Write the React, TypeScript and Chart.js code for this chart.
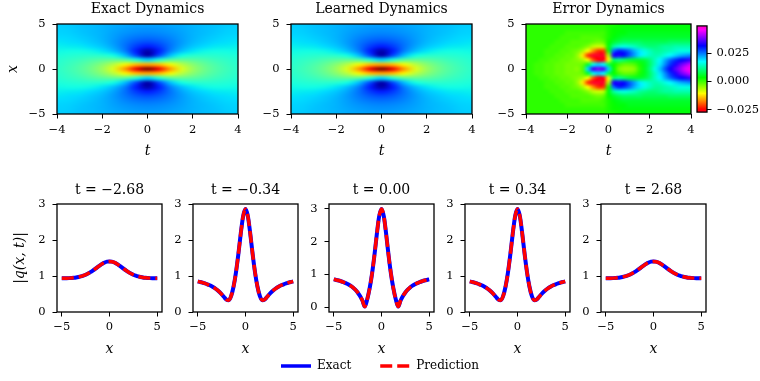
import React, { useEffect, useRef } from 'react';
import { Chart, registerables } from 'chart.js';

Chart.register(...registerables);

const SERIF = "'DejaVu Serif', 'Liberation Serif', serif";
Chart.defaults.font.family = SERIF;
Chart.defaults.color = '#000';

// ---------------- data ----------------
// heat-map grid: columns are t, rows are x (top row x = 5)
const heatTs = [-4, -3.5, -3, -2.5, -2, -1.5, -1, -0.5, 0, 0.5, 1, 1.5, 2, 2.5, 3, 3.5, 4];
const heatXs = [5, 4.5, 4, 3.5, 3, 2.5, 2, 1.5, 1, 0.5, 0, -0.5, -1, -1.5, -2, -2.5, -3, -3.5, -4, -4.5, -5];

const exactGrid = [
  [0.98, 0.97, 0.95, 0.93, 0.91, 0.88, 0.87, 0.85, 0.85, 0.85, 0.87, 0.88, 0.91, 0.93, 0.95, 0.97, 0.98],
  [0.99, 0.98, 0.95, 0.93, 0.90, 0.87, 0.84, 0.82, 0.81, 0.82, 0.84, 0.87, 0.90, 0.93, 0.95, 0.98, 0.99],
  [1.00, 0.99, 0.96, 0.93, 0.90, 0.85, 0.81, 0.78, 0.77, 0.78, 0.81, 0.85, 0.90, 0.93, 0.96, 0.99, 1.00],
  [1.02, 1.01, 0.98, 0.95, 0.90, 0.84, 0.77, 0.72, 0.70, 0.72, 0.77, 0.84, 0.90, 0.95, 0.98, 1.01, 1.02],
  [1.05, 1.03, 1.01, 0.97, 0.92, 0.83, 0.73, 0.64, 0.60, 0.64, 0.73, 0.83, 0.92, 0.97, 1.01, 1.03, 1.05],
  [1.08, 1.07, 1.06, 1.02, 0.96, 0.86, 0.71, 0.54, 0.45, 0.54, 0.71, 0.86, 0.96, 1.02, 1.06, 1.07, 1.08],
  [1.11, 1.12, 1.12, 1.10, 1.05, 0.94, 0.75, 0.45, 0.10, 0.45, 0.75, 0.94, 1.05, 1.10, 1.12, 1.12, 1.11],
  [1.15, 1.17, 1.19, 1.20, 1.19, 1.12, 0.94, 0.59, 0.10, 0.59, 0.94, 1.12, 1.19, 1.20, 1.19, 1.17, 1.15],
  [1.18, 1.22, 1.26, 1.32, 1.37, 1.41, 1.37, 1.18, 1.00, 1.18, 1.37, 1.41, 1.37, 1.32, 1.26, 1.22, 1.18],
  [1.20, 1.25, 1.32, 1.41, 1.54, 1.72, 1.94, 2.13, 2.20, 2.13, 1.94, 1.72, 1.54, 1.41, 1.32, 1.25, 1.20],
  [1.21, 1.27, 1.34, 1.45, 1.61, 1.86, 2.24, 2.72, 3.00, 2.72, 2.24, 1.86, 1.61, 1.45, 1.34, 1.27, 1.21],
  [1.20, 1.25, 1.32, 1.41, 1.54, 1.72, 1.94, 2.13, 2.20, 2.13, 1.94, 1.72, 1.54, 1.41, 1.32, 1.25, 1.20],
  [1.18, 1.22, 1.26, 1.32, 1.37, 1.41, 1.37, 1.18, 1.00, 1.18, 1.37, 1.41, 1.37, 1.32, 1.26, 1.22, 1.18],
  [1.15, 1.17, 1.19, 1.20, 1.19, 1.12, 0.94, 0.59, 0.10, 0.59, 0.94, 1.12, 1.19, 1.20, 1.19, 1.17, 1.15],
  [1.11, 1.12, 1.12, 1.10, 1.05, 0.94, 0.75, 0.45, 0.10, 0.45, 0.75, 0.94, 1.05, 1.10, 1.12, 1.12, 1.11],
  [1.08, 1.07, 1.06, 1.02, 0.96, 0.86, 0.71, 0.54, 0.45, 0.54, 0.71, 0.86, 0.96, 1.02, 1.06, 1.07, 1.08],
  [1.05, 1.03, 1.01, 0.97, 0.92, 0.83, 0.73, 0.64, 0.60, 0.64, 0.73, 0.83, 0.92, 0.97, 1.01, 1.03, 1.05],
  [1.02, 1.01, 0.98, 0.95, 0.90, 0.84, 0.77, 0.72, 0.70, 0.72, 0.77, 0.84, 0.90, 0.95, 0.98, 1.01, 1.02],
  [1.00, 0.99, 0.96, 0.93, 0.90, 0.85, 0.81, 0.78, 0.77, 0.78, 0.81, 0.85, 0.90, 0.93, 0.96, 0.99, 1.00],
  [0.99, 0.98, 0.95, 0.93, 0.90, 0.87, 0.84, 0.82, 0.81, 0.82, 0.84, 0.87, 0.90, 0.93, 0.95, 0.98, 0.99],
  [0.98, 0.97, 0.95, 0.93, 0.91, 0.88, 0.87, 0.85, 0.85, 0.85, 0.87, 0.88, 0.91, 0.93, 0.95, 0.97, 0.98],
];
// the learned field is visually identical to the exact one
const learnedGrid = exactGrid;
const heatRange = [0, 3.0];

// error field, in units of 1e-3 (columns t step 0.25, rows x step 0.5)
const errTs = [-4, -3.75, -3.5, -3.25, -3, -2.75, -2.5, -2.25, -2, -1.75, -1.5, -1.25, -1, -0.75, -0.5, -0.25, 0,
  0.25, 0.5, 0.75, 1, 1.25, 1.5, 1.75, 2, 2.25, 2.5, 2.75, 3, 3.25, 3.5, 3.75, 4];
const errXs = heatXs;
const errorGridMilli = [
  [1, 1, 1, 1, 1, 1, 1, 1, 1, 1, 1, 1, 1, 1, 1, 1, 2, 2, 3, 3, 3, 4, 4, 4, 4, 4, 4, 4, 4, 4, 4, 4, 4],
  [1, 1, 1, 1, 1, 1, 1, 1, 1, 1, 1, 1, 1, 1, 1, 1, 2, 3, 3, 4, 4, 4, 4, 4, 4, 4, 4, 4, 4, 4, 4, 4, 4],
  [1, 1, 1, 1, 1, 1, 1, 1, 0, 0, 0, 0, 0, 0, 0, 0, 2, 3, 4, 4, 5, 5, 5, 5, 5, 5, 5, 5, 5, 5, 5, 5, 5],
  [1, 1, 1, 1, 1, 1, 1, 0, 0, 0, 0, -1, -1, -1, -1, 0, 2, 4, 5, 6, 6, 6, 6, 6, 6, 6, 6, 6, 6, 6, 6, 6, 6],
  [1, 1, 1, 1, 1, 1, 0, 0, 0, -1, -1, -1, -1, -2, -3, -2, 3, 6, 8, 9, 9, 9, 9, 8, 8, 8, 8, 8, 9, 9, 9, 9, 9],
  [1, 1, 1, 1, 1, 0, 0, 0, -1, -1, -1, -2, -4, -7, -8, -7, 4, 12, 15, 16, 15, 14, 12, 11, 10, 10, 11, 12, 12, 13, 13, 13, 13],
  [1, 1, 1, 1, 0, 0, 0, -1, -1, -2, -3, -6, -11, -17, -22, -22, 2, 26, 30, 29, 26, 22, 19, 16, 14, 12, 12, 13, 14, 15, 16, 16, 16],
  [1, 1, 1, 1, 0, 0, -1, -1, -2, -2, -5, -12, -22, -27, -29, -29, -6, 33, 33, 31, 27, 23, 19, 16, 14, 13, 14, 16, 18, 20, 22, 23, 24],
  [1, 1, 1, 0, 0, -1, -1, -2, -2, -3, -4, -6, -10, -20, -25, -26, -10, 9, 11, 9, 7, 6, 6, 7, 10, 14, 18, 22, 26, 29, 31, 33, 35],
  [1, 1, 0, 0, -1, -1, -2, -2, -3, -3, -3, -2, 6, 16, 20, 18, 8, 3, 0, -2, -2, -1, 2, 5, 9, 14, 19, 24, 29, 33, 37, 40, 43],
  [1, 1, 0, 0, -1, -1, -2, -2, -3, -3, -4, -1, 20, 35, 38, 36, 20, 4, -3, -5, -5, -4, 1, 5, 10, 16, 21, 27, 32, 36, 40, 44, 47],
  [1, 1, 0, 0, -1, -1, -2, -2, -3, -3, -3, -2, 6, 16, 20, 18, 8, 3, 0, -2, -2, -1, 2, 5, 9, 14, 19, 24, 29, 33, 37, 40, 43],
  [1, 1, 1, 0, 0, -1, -1, -2, -2, -3, -4, -6, -10, -20, -25, -26, -10, 9, 11, 9, 7, 6, 6, 7, 10, 14, 18, 22, 26, 29, 31, 33, 35],
  [1, 1, 1, 1, 0, 0, -1, -1, -2, -2, -5, -12, -22, -27, -29, -29, -6, 33, 33, 31, 27, 23, 19, 16, 14, 13, 14, 16, 18, 20, 22, 23, 24],
  [1, 1, 1, 1, 0, 0, 0, -1, -1, -2, -3, -6, -11, -17, -22, -22, 2, 26, 30, 29, 26, 22, 19, 16, 14, 12, 12, 13, 14, 15, 16, 16, 16],
  [1, 1, 1, 1, 1, 0, 0, 0, -1, -1, -1, -2, -4, -7, -8, -7, 4, 12, 15, 16, 15, 14, 12, 11, 10, 10, 11, 12, 12, 13, 13, 13, 13],
  [1, 1, 1, 1, 1, 1, 0, 0, 0, -1, -1, -1, -1, -2, -3, -2, 3, 6, 8, 9, 9, 9, 9, 8, 8, 8, 8, 8, 9, 9, 9, 9, 9],
  [1, 1, 1, 1, 1, 1, 1, 0, 0, 0, 0, -1, -1, -1, -1, 0, 2, 4, 5, 6, 6, 6, 6, 6, 6, 6, 6, 6, 6, 6, 6, 6, 6],
  [1, 1, 1, 1, 1, 1, 1, 1, 0, 0, 0, 0, 0, 0, 0, 0, 2, 3, 4, 4, 5, 5, 5, 5, 5, 5, 5, 5, 5, 5, 5, 5, 5],
  [1, 1, 1, 1, 1, 1, 1, 1, 1, 1, 1, 1, 1, 1, 1, 1, 2, 3, 3, 4, 4, 4, 4, 4, 4, 4, 4, 4, 4, 4, 4, 4, 4],
  [1, 1, 1, 1, 1, 1, 1, 1, 1, 1, 1, 1, 1, 1, 1, 1, 2, 2, 3, 3, 3, 4, 4, 4, 4, 4, 4, 4, 4, 4, 4, 4, 4],
];
const errRange = [-0.027, 0.049];

// slices |q(x,t)|
const lineXs = [-5, -4.75, -4.5, -4.25, -4, -3.75, -3.5, -3.25, -3, -2.75, -2.5, -2.25, -2, -1.75, -1.5, -1.25, -1,
  -0.75, -0.5, -0.25, 0, 0.25, 0.5, 0.75, 1, 1.25, 1.5, 1.75, 2, 2.25, 2.5, 2.75, 3, 3.25, 3.5, 3.75, 4, 4.25, 4.5, 4.75, 5];
const exactTm268 = [0.937, 0.937, 0.938, 0.941, 0.945, 0.951, 0.960, 0.973, 0.989, 1.010, 1.036, 1.069, 1.107, 1.151,
  1.198, 1.248, 1.297, 1.341, 1.376, 1.398, 1.406, 1.398, 1.376, 1.341, 1.297, 1.248, 1.198, 1.151, 1.107, 1.069, 1.036,
  1.010, 0.989, 0.973, 0.960, 0.951, 0.945, 0.941, 0.938, 0.937, 0.937];
const exactTm034 = [0.848, 0.833, 0.815, 0.795, 0.770, 0.742, 0.708, 0.668, 0.619, 0.561, 0.493, 0.416, 0.344, 0.328,
  0.446, 0.708, 1.098, 1.603, 2.171, 2.659, 2.858, 2.659, 2.171, 1.603, 1.098, 0.708, 0.446, 0.328, 0.344, 0.416, 0.493,
  0.561, 0.619, 0.668, 0.708, 0.742, 0.770, 0.795, 0.815, 0.833, 0.848];
const exactT000 = [0.846, 0.830, 0.812, 0.790, 0.765, 0.734, 0.698, 0.654, 0.600, 0.533, 0.448, 0.340, 0.200, 0.015,
  0.231, 0.561, 1.000, 1.560, 2.200, 2.765, 3.000, 2.765, 2.200, 1.560, 1.000, 0.561, 0.231, 0.015, 0.200, 0.340, 0.448,
  0.533, 0.600, 0.654, 0.698, 0.734, 0.765, 0.790, 0.812, 0.830, 0.846];
const exactT034 = exactTm034;
const exactT268 = exactTm268;
// predictions coincide with the exact curves at plot resolution
const predTm268 = exactTm268;
const predTm034 = exactTm034;
const predT000 = exactT000;
const predT034 = exactT034;
const predT268 = exactT268;

const panelTitles = ['t = \u22122.68', 't = \u22120.34', 't = 0.00', 't = 0.34', 't = 2.68'];
const panelExact = [exactTm268, exactTm034, exactT000, exactT034, exactT268];
const panelPred = [predTm268, predTm034, predT000, predT034, predT268];
const panelYRange = [[0, 3], [0, 3], [-0.15, 3.15], [0, 3], [0, 3]];

const heatTTicks = [-4, -2, 0, 2, 4];
const heatXTicks = [-5, 0, 5];
const lineXTicks = [-5, 0, 5];
const lineYTicks = [0, 1, 2, 3];
const cbarTicks = [-0.025, 0, 0.025];

// ---------------- colormaps ----------------
type Pts = number[][];
const JET_R: Pts = [[0, 0], [0.35, 0], [0.66, 1], [0.89, 1], [1, 0.5]];
const JET_G: Pts = [[0, 0], [0.125, 0], [0.375, 1], [0.64, 1], [0.91, 0], [1, 0]];
const JET_B: Pts = [[0, 0.5], [0.11, 1], [0.34, 1], [0.65, 0], [1, 0]];
function seg(p: Pts, n: number) {
  if (n <= p[0][0]) return p[0][1];
  for (let i = 1; i < p.length; i++) {
    if (n <= p[i][0]) {
      const [x0, y0] = p[i - 1];
      const [x1, y1] = p[i];
      return y0 + ((y1 - y0) * (n - x0)) / (x1 - x0);
    }
  }
  return p[p.length - 1][1];
}
const jet = (n: number) => [seg(JET_R, n), seg(JET_G, n), seg(JET_B, n)];
const GIST: Pts = [[0, 1, 0, 0.16], [0.03, 1, 0, 0], [0.215, 1, 1, 0], [0.4, 0, 1, 0], [0.586, 0, 1, 1], [0.77, 0, 0, 1], [0.954, 1, 0, 1], [1, 1, 0, 0.75]];
const gist = (n: number) => [1, 2, 3].map((c) => seg(GIST.map((r) => [r[0], r[c]]), n));
const clamp01 = (v: number) => Math.max(0, Math.min(1, v));

const fmt = (v: number, d = 0) => (v < 0 ? '\u2212' : '') + Math.abs(v).toFixed(d);

// ---------------- plugins ----------------
const framePlugin = {
  id: 'frame',
  afterDraw(chart: any) {
    const { ctx, chartArea: a } = chart;
    ctx.save();
    ctx.strokeStyle = '#000';
    ctx.lineWidth = 1.3;
    ctx.strokeRect(a.left, a.top, a.right - a.left, a.bottom - a.top);
    ctx.restore();
  },
};

function gridImagePlugin(grid: number[][], ts: number[], xs: number[], toRGB: (v: number) => number[]) {
  let img: HTMLCanvasElement | null = null;
  return {
    id: 'gridImage',
    beforeDatasetsDraw(chart: any) {
      if (!img) {
        const rows = grid.length;
        const cols = grid[0].length;
        img = document.createElement('canvas');
        img.width = cols;
        img.height = rows;
        const c = img.getContext('2d')!;
        const d = c.createImageData(cols, rows);
        for (let r = 0; r < rows; r++) {
          for (let k = 0; k < cols; k++) {
            const rgb = toRGB(grid[r][k]);
            const i = (r * cols + k) * 4;
            d.data[i] = Math.round(rgb[0] * 255);
            d.data[i + 1] = Math.round(rgb[1] * 255);
            d.data[i + 2] = Math.round(rgb[2] * 255);
            d.data[i + 3] = 255;
          }
        }
        c.putImageData(d, 0, 0);
      }
      const { ctx, chartArea: a, scales } = chart;
      const dt = (ts[1] - ts[0]) / 2;
      const dx = Math.abs(xs[0] - xs[1]) / 2;
      const px0 = scales.x.getPixelForValue(ts[0] - dt);
      const px1 = scales.x.getPixelForValue(ts[ts.length - 1] + dt);
      const py0 = scales.y.getPixelForValue(xs[0] + dx);
      const py1 = scales.y.getPixelForValue(xs[xs.length - 1] - dx);
      ctx.save();
      ctx.beginPath();
      ctx.rect(a.left, a.top, a.right - a.left, a.bottom - a.top);
      ctx.clip();
      ctx.imageSmoothingEnabled = true;
      ctx.imageSmoothingQuality = 'high';
      ctx.drawImage(img, px0, py0, px1 - px0, py1 - py0);
      ctx.restore();
    },
  };
}

function colorbarPlugin(range: number[], cmap: (n: number) => number[]) {
  let img: HTMLCanvasElement | null = null;
  return {
    id: 'colorbar',
    beforeDatasetsDraw(chart: any) {
      const N = 256;
      if (!img) {
        img = document.createElement('canvas');
        img.width = 1;
        img.height = N;
        const c = img.getContext('2d')!;
        const d = c.createImageData(1, N);
        for (let r = 0; r < N; r++) {
          const rgb = cmap(1 - r / (N - 1));
          d.data[r * 4] = Math.round(rgb[0] * 255);
          d.data[r * 4 + 1] = Math.round(rgb[1] * 255);
          d.data[r * 4 + 2] = Math.round(rgb[2] * 255);
          d.data[r * 4 + 3] = 255;
        }
        c.putImageData(d, 0, 0);
      }
      const { ctx, chartArea: a, scales } = chart;
      const top = scales.y.getPixelForValue(range[1]);
      const bottom = scales.y.getPixelForValue(range[0]);
      ctx.save();
      ctx.imageSmoothingEnabled = true;
      ctx.drawImage(img, a.left, top, a.right - a.left, bottom - top);
      ctx.restore();
    },
  };
}

// ---------------- axis helpers ----------------
function axis(o: {
  min: number; max: number; ticks: number[]; digits?: number; horizontal: boolean; size: number;
  tickPad: number; title?: string; titlePad?: number; position?: string; display?: boolean; labels?: (v: number) => string;
}) {
  const label = o.labels || ((v: number) => fmt(v, o.digits || 0));
  return {
    type: 'linear',
    display: o.display === undefined ? true : o.display,
    position: o.position || (o.horizontal ? 'bottom' : 'left'),
    min: o.min,
    max: o.max,
    afterBuildTicks: (s: any) => {
      s.ticks = o.ticks.map((v) => ({ value: v }));
    },
    afterFit: (s: any) => {
      if (o.horizontal) s.height = o.size;
      else s.width = o.size;
    },
    grid: { display: true, drawOnChartArea: false, drawTicks: true, tickLength: 4.5, color: '#000', lineWidth: 1 },
    border: { display: false },
    ticks: {
      autoSkip: false, maxRotation: 0, minRotation: 0, padding: o.tickPad, color: '#000',
      font: { family: SERIF, size: 11.5 },
      callback: (v: any) => label(Number(v)),
    },
    title: o.title
      ? {
          display: true, text: o.title, color: '#000',
          font: { family: SERIF, size: 14, style: 'italic' },
          padding: o.horizontal ? { top: 0, bottom: o.titlePad || 0 } : { top: o.titlePad || 0, bottom: 0 },
        }
      : { display: false },
  };
}

// an empty right-hand spacer so that the canvas is symmetric around the plot (titles centre over it)
const spacer = (w: number) => ({
  type: 'linear', position: 'right', display: true, min: 0, max: 1,
  grid: { display: false }, border: { display: false }, ticks: { display: false },
  afterFit: (s: any) => { s.width = w; },
});

const titleOpts = (text: string, padTop: number, padBottom: number) => ({
  display: true, text, color: '#000',
  font: { family: SERIF, size: 14, weight: 'normal' },
  padding: { top: padTop, bottom: padBottom },
});

// ---------------- chart specs ----------------
type Spec = { key: string; left: number; top: number; width: number; height: number; config: () => any };

const HEAT_TOP = 24, HEAT_H = 90, HEAT_B = 48;
function heatSpec(key: string, plotLeft: number, plotW: number, L: number, title: string,
  grid: number[][], ts: number[], xs: number[], toRGB: (v: number) => number[], yTitle: boolean): Spec {
  return {
    key, left: plotLeft - L, top: 0, width: L + plotW + L, height: HEAT_TOP + HEAT_H + HEAT_B,
    config: () => ({
      type: 'scatter',
      data: { datasets: [] },
      options: {
        responsive: false, animation: false, events: [],
        layout: { padding: 0 },
        plugins: { legend: { display: false }, tooltip: { enabled: false }, title: titleOpts(title, 1, 6.2) },
        scales: {
          x: axis({ min: -4, max: 4, ticks: heatTTicks, horizontal: true, size: HEAT_B, tickPad: 5, title: 't', titlePad: 2.6 }),
          y: axis({ min: -5, max: 5, ticks: heatXTicks, horizontal: false, size: L, tickPad: 7, title: yTitle ? 'x' : undefined, titlePad: 4.6 }),
          pad: spacer(L),
        },
      },
      plugins: [gridImagePlugin(grid, ts, xs, toRGB), framePlugin],
    }),
  };
}

const jetRGB = (v: number) => jet(clamp01((v - heatRange[0]) / (heatRange[1] - heatRange[0])));
const errRGB = (v: number) => gist(clamp01((v / 1000 - errRange[0]) / (errRange[1] - errRange[0])));

const PANEL_TOP = 204, PANEL_H = 108, PANEL_T = 28, PANEL_B = 48, PANEL_W = 105;
function panelSpec(k: number): Spec {
  const plotLeft = 57 + 136 * k;
  const L = k === 0 ? 57 : 40;
  return {
    key: 'p' + k, left: plotLeft - L, top: PANEL_TOP - PANEL_T, width: L + PANEL_W + L, height: PANEL_T + PANEL_H + PANEL_B,
    config: () => ({
      type: 'line',
      data: {
        datasets: [
          {
            label: 'Prediction', data: lineXs.map((x, i) => ({ x, y: panelPred[k][i] })),
            borderColor: 'red', borderWidth: 3.5, borderDash: [12, 5], pointRadius: 0, fill: false,
            cubicInterpolationMode: 'monotone', xAxisID: 'x', yAxisID: 'y',
          },
          {
            label: 'Exact', data: lineXs.map((x, i) => ({ x, y: panelExact[k][i] })),
            borderColor: 'blue', borderWidth: 4, pointRadius: 0, fill: false,
            cubicInterpolationMode: 'monotone', xAxisID: 'x', yAxisID: 'y',
          },
        ],
      },
      options: {
        responsive: false, animation: false, events: [],
        layout: { padding: 0 },
        plugins: { legend: { display: false }, tooltip: { enabled: false }, title: titleOpts(panelTitles[k], 5.6, 5.6) },
        scales: {
          x: axis({ min: -5.5, max: 5.5, ticks: lineXTicks, horizontal: true, size: PANEL_B, tickPad: 4, title: 'x', titlePad: 2.6 }),
          y: axis({
            min: panelYRange[k][0], max: panelYRange[k][1], ticks: lineYTicks, horizontal: false, size: L, tickPad: 7,
            title: k === 0 ? '|q(x, t)|' : undefined, titlePad: 11.6,
          }),
          pad: spacer(L),
        },
      },
      plugins: [framePlugin],
    }),
  };
}

const cbarSpec: Spec = {
  key: 'cbar', left: 695, top: 14, width: 67, height: 110,
  config: () => ({
    type: 'scatter',
    data: { datasets: [] },
    options: {
      responsive: false, animation: false, events: [],
      layout: { padding: { left: 2, right: 0, top: 10, bottom: 10 } },
      plugins: { legend: { display: false }, tooltip: { enabled: false } },
      scales: {
        x: { display: false, min: 0, max: 1 },
        y: axis({
          min: errRange[0], max: errRange[1], ticks: cbarTicks, horizontal: false, size: 55, tickPad: 5,
          position: 'right', labels: (v: number) => fmt(v, 3),
        }),
      },
    },
    plugins: [colorbarPlugin(errRange, gist), framePlugin],
  }),
};

const legendSpec: Spec = {
  key: 'legend', left: 0, top: 331, width: 760, height: 130,
  config: () => ({
    type: 'line',
    data: {
      datasets: [
        { label: 'Exact', data: [], borderColor: 'blue', backgroundColor: 'blue', borderWidth: 3.5, borderDash: [] },
        { label: 'Prediction', data: [], borderColor: 'red', backgroundColor: 'red', borderWidth: 3.5, borderDash: [12, 5] },
      ],
    },
    options: {
      responsive: false, animation: false, events: [],
      plugins: {
        tooltip: { enabled: false },
        legend: {
          display: true, position: 'top',
          labels: {
            usePointStyle: true, pointStyle: 'line', pointStyleWidth: 30, color: '#000', padding: 29,
            font: { family: SERIF, size: 12 },
            generateLabels: (chart: any) =>
              chart.data.datasets.map((ds: any, i: number) => ({
                text: ds.label,
                strokeStyle: ds.borderColor,
                fillStyle: ds.borderColor,
                lineWidth: ds.borderWidth,
                lineDash: ds.borderDash,
                lineCap: 'butt',
                pointStyle: 'line',
                fontColor: '#000',
                hidden: false,
                datasetIndex: i,
              })),
          },
        },
      },
      scales: { x: { display: false }, y: { display: false } },
    },
  }),
};

const specs: Spec[] = [
  heatSpec('h1', 57, 181, 57, 'Exact Dynamics', exactGrid, heatTs, heatXs, jetRGB, true),
  heatSpec('h2', 291, 181, 40, 'Learned Dynamics', learnedGrid, heatTs, heatXs, jetRGB, false),
  heatSpec('h3', 526, 165, 40, 'Error Dynamics', errorGridMilli, errTs, errXs, errRGB, false),
  cbarSpec,
  panelSpec(0), panelSpec(1), panelSpec(2), panelSpec(3), panelSpec(4),
  legendSpec,
];

function ChartBox({ spec }: { spec: Spec }) {
  const ref = useRef<HTMLCanvasElement | null>(null);
  useEffect(() => {
    if (!ref.current) return;
    const chart = new Chart(ref.current, spec.config());
    return () => chart.destroy();
  }, [spec]);
  return (
    <canvas
      ref={ref}
      width={spec.width}
      height={spec.height}
      style={{ position: 'absolute', left: spec.left, top: spec.top, width: spec.width, height: spec.height }}
    />
  );
}

export default function App() {
  return (
    <div style={{ position: 'fixed', left: 0, top: 0, width: 760, height: 381, background: '#fff', overflow: 'hidden' }}>
      {specs.map((s) => (
        <ChartBox key={s.key} spec={s} />
      ))}
    </div>
  );
}
